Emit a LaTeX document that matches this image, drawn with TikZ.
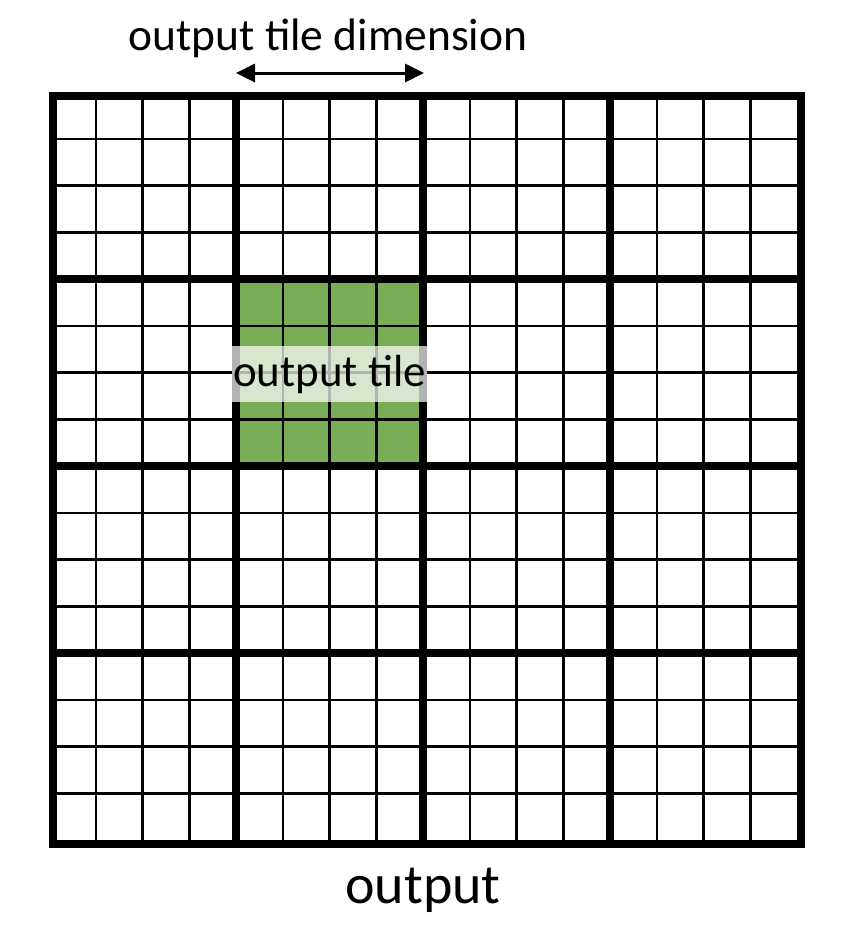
\documentclass[tikz,border=0pt]{standalone}
\usepackage{fontspec}
\setmainfont{Carlito}
\usetikzlibrary{arrows.meta}
\definecolor{tilegreen}{RGB}{122,174,86}
\begin{document}
\begin{tikzpicture}[x=1pt,y=-1pt,
  thingrid/.style={line width=2.5pt,black},
  thickgrid/.style={line width=8pt,black},
  lbl/.style={font=\fontsize{45.5}{52}\selectfont,inner sep=0pt},
  tilelbl/.style={lbl,font=\fontsize{45}{52}\selectfont,fill=white,fill opacity=0.7,text opacity=1,minimum width=195pt,minimum height=56pt},
  dimarrow/.style={line width=3pt,{Triangle[length=19pt,width=18pt]}-{Triangle[length=19pt,width=18pt]}}]
\useasboundingbox (0,0) rectangle (843,937);
% green tile
\node[fill=tilegreen,minimum width=187pt,minimum height=187pt,inner sep=0pt,anchor=north west] (tile) at (236,279) {};
% thin grid
\foreach \i in {1,...,15} {
  \draw[thingrid] ({49+\i*46.75},92) -- ({49+\i*46.75},840);
  \draw[thingrid] (49,{92+\i*46.75}) -- (797,{92+\i*46.75});
}
% thick grid
\foreach \i in {1,2,3} {
  \draw[thickgrid] ({49+\i*187},92) -- ({49+\i*187},840);
  \draw[thickgrid] (49,{92+\i*187}) -- (797,{92+\i*187});
}
\node[draw,thickgrid,minimum width=748pt,minimum height=748pt,inner sep=0pt,anchor=north west] (grid) at (49,92) {};
% label
\node[tilelbl] (tilelabel) at (329.5,374) {output tile};
% dimension arrow
\coordinate (al) at (236,73);
\coordinate (ar) at (424,73);
\draw[dimarrow] (al) -- (ar);
\node[lbl] (dimtext) at (328,38) {output tile dimension};
\node[lbl,font=\fontsize{56}{62}\selectfont] (outtext) at (423,890) {output};
\end{tikzpicture}
\end{document}
